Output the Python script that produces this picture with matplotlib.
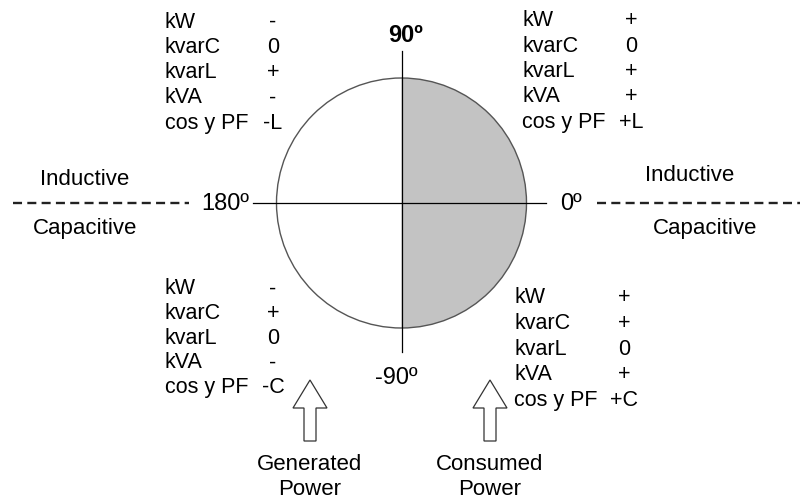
import matplotlib as mpl
import matplotlib.pyplot as plt
import numpy as np

plt.rcParams['font.family'] = ['Liberation Sans', 'DejaVu Sans']
plt.rcParams['lines.scale_dashes'] = False

# quantities and their signs per quadrant
quantities = ["kW", "kvarC", "kvarL", "kVA", "cos y PF"]
q1_signs = ["+", "0", "+", "+", "+L"]   # 0..90
q2_signs = ["-", "0", "+", "-", "-L"]   # 90..180
q3_signs = ["-", "+", "0", "-", "-C"]   # 180..270
q4_signs = ["+", "+", "0", "+", "+C"]   # 270..360
angle_labels = ["0º", "90º", "180º", "-90º"]
side_labels = ["Inductive", "Capacitive"]
arrow_labels = ["Generated\nPower", "Consumed\nPower"]

fig = plt.figure(figsize=(8, 5.02), dpi=100)
ax = fig.add_axes([0, 0, 1, 1])
ax.set(xlim=(0, 800), ylim=(502, 0))
ax.axis("off")

cx, cy, r = 401.5, 204, 125
fs = 15.5

# circle, right half shaded
ax.add_patch(mpl.patches.Wedge((cx, cy), r, -90, 90, facecolor="#c3c3c3",
                               edgecolor="none"))
ax.add_patch(mpl.patches.Circle((cx, cy), r, facecolor="none",
                                edgecolor="#555555", lw=1.0))
ax.plot([cx, cx], [52, 353], color="black", lw=0.9)
ax.plot([253, 546], [cy, cy], color="black", lw=0.9)

# dashed separators
ax.plot([13, 189], [cy, cy], color="#222222", lw=1.7, dashes=(6.5, 3.8))
ax.plot([597, 800], [cy, cy], color="#222222", lw=1.7, dashes=(6.5, 3.8))

# angle labels
ax.text(571, cy, angle_labels[0], fontsize=17, ha="center", va="center")
ax.text(406, 36, angle_labels[1], fontsize=17, ha="center", va="center",
        fontweight="bold")
ax.text(225, cy, angle_labels[2], fontsize=17, ha="center", va="center")
ax.text(396, 378, angle_labels[3], fontsize=17, ha="center", va="center")

ax.text(85, 180, side_labels[0], fontsize=16, ha="center", va="center")
ax.text(85, 229, side_labels[1], fontsize=16, ha="center", va="center")
ax.text(690, 176, side_labels[0], fontsize=16, ha="center", va="center")
ax.text(705, 229, side_labels[1], fontsize=16, ha="center", va="center")

# quadrant tables
def table(x0, xv, y0, dy, signs):
    for i, (q, s) in enumerate(zip(quantities, signs)):
        y = y0 + i*dy
        ax.text(x0, y, q, fontsize=fs, ha="left", va="center")
        ax.text(xv, y, s, fontsize=fs, ha="center", va="center")

table(165, 273, 22, 25.3, q2_signs)
table(522, 631, 21, 25.3, q1_signs)
table(165, 273, 289, 24.6, q3_signs)
table(514, 624, 298, 25.6, q4_signs)

# hollow arrows
for x, lab in zip([310, 490], arrow_labels):
    ax.add_patch(mpl.patches.FancyArrow(x, 442, 0, -61, width=12,
                                        head_width=34, head_length=28,
                                        length_includes_head=True,
                                        facecolor="white", edgecolor="#333333",
                                        lw=0.9))
    ax.text(x, 477, lab, fontsize=16, ha="center", va="center",
            linespacing=1.2)

fig.savefig("out.png", dpi=100)
